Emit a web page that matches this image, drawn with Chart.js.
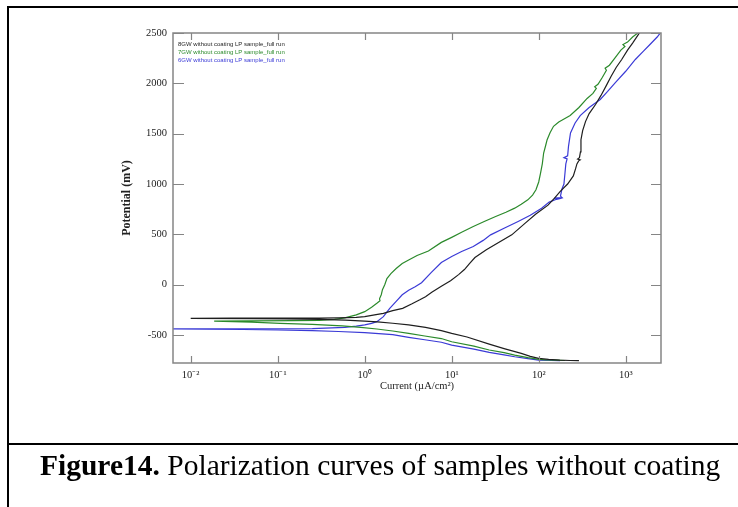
<!DOCTYPE html>
<html><head><meta charset="utf-8">
<script src="https://cdn.jsdelivr.net/npm/chart.js@4.4.0/dist/chart.umd.min.js"></script>
<style>
html,body{margin:0;padding:0;background:#fff;}
#wrap{position:relative;width:738px;height:507px;overflow:hidden;background:#fff;}
#c{position:absolute;left:0;top:0;}
.hl{position:absolute;background:#000;}
#cap{position:absolute;left:40px;top:451px;font-family:"Liberation Serif","Times New Roman",serif;font-size:29.5px;line-height:29.5px;white-space:nowrap;color:#000;}
</style></head>
<body><div id="wrap"><canvas id="c" width="738" height="507"></canvas>
<div class="hl" style="left:7px;top:6px;width:731px;height:2px"></div>
<div class="hl" style="left:7px;top:6px;width:2px;height:501px"></div>
<div class="hl" style="left:7px;top:443px;width:731px;height:2px"></div>
<div id="cap"><b>Figure14.</b> Polarization curves of samples without coating</div>
</div>
<script>
// ---- data (current in µA/cm², potential in mV) ----
const seriesLabels = ['8GW without coating LP sample_full run','7GW without coating LP sample_full run','6GW without coating LP sample_full run'];
const seriesColors = ['#1e1e1e','#2b8a2b','#3a3ad6'];

const gw8Current = [290,230,175,130,100,80,63,40,27,15,10,7.6,5,3.2,2.1,1.4,1.0,0.6,0.3,0.12,0.05,0.01,
  0.03,0.12,0.3,0.5,0.8,1.0,1.3,1.64,2.1,2.73,3.5,4.3,5.0,5.9,7.6,9.7,12,14,16,18.5,25,49,70,92,128,152,178,215,250,265,275,288,300,280,294,302,306,320,345,
  380,450,520,600,680,780,900,1050,1200,1450];
const gw8Potential = [-755,-753,-749,-742,-732,-712,-683,-635,-590,-520,-484,-457,-425,-400,-383,-370,-362,-352,-345,-340,-337,-334,
  -333,-333,-332,-330,-325,-318,-300,-285,-258,-235,-190,-150,-119,-75,-15,40,100,150,210,270,346,495,611,700,790,860,930,1000,1080,1150,1200,1230,1240,1248,1262,1320,1440,1530,1620,
  1700,1790,1880,1980,2070,2160,2237,2330,2400,2505];

const gw7Current = [200,160,120,100,75,53,40,27,18,10,7.6,4.9,3.2,2.1,1.38,0.9,0.55,0.25,0.107,0.05,0.0186,
  0.05,0.15,0.3,0.45,0.59,0.8,1.0,1.2,1.38,1.5,1.48,1.55,1.6,1.7,1.8,2.0,2.3,2.7,3.2,4.0,5.4,7.6,10,13,17.7,24,32,42,53,63,75,85,93,100,105,110,114,120,125,135,148,170,191,
  230,290,360,420,460,440,480,540,600,580,650,750,880,980,930,1050,1200,1400];
const gw7Potential = [-753,-750,-746,-742,-725,-699,-675,-649,-610,-567,-535,-510,-483,-460,-440,-425,-410,-395,-384,-372,-362,
  -359,-357,-354,-345,-330,-300,-268,-225,-185,-160,-140,-100,-50,0,60,110,160,210,245,290,335,420,470,520,578,630,677,720,760,800,843,890,943,1020,1109,1200,1308,1380,1440,1510,1573,1615,1640,
  1680,1760,1850,1900,1950,1965,1990,2060,2130,2150,2180,2250,2330,2366,2385,2410,2460,2505];

const gw6Current = [176,140,100,75,53,40,27,18,10,7.6,4.9,3.2,2.1,1.0,0.5,0.25,0.1,0.04,0.015,0.005,
  0.015,0.04,0.1,0.25,0.59,0.8,1.0,1.2,1.38,1.64,1.94,2.3,2.7,3.2,3.8,4.5,5.8,7.6,10,13,17.7,23,28,40,58,80,108,132,160,175,150,185,178,185,195,200,205,212,195,215,220,232,262,
  300,380,510,620,760,1000,1290,1600,1900,2300,2600];
const gw6Potential = [-755,-753,-749,-735,-716,-697,-673,-640,-600,-572,-547,-523,-497,-477,-465,-457,-450,-445,-441,-440,
  -440,-439,-438,-436,-424,-412,-400,-385,-367,-318,-235,-165,-100,-55,-20,20,120,220,280,330,379,440,495,560,628,690,760,820,848,855,860,866,880,950,1000,1100,1200,1250,1262,1280,1374,1507,1606,
  1680,1760,1840,1920,2008,2120,2237,2320,2386,2460,2520];

const xTickValues = [0.01,0.1,1,10,100,1000];
const xTickLabels = ['10⁻²','10⁻¹','10⁰','10¹','10²','10³'];
const yTickValues = [-500,0,500,1000,1500,2000,2500];
const yTickLabels = ['-500','0','500','1000','1500','2000','2500'];
const xMin = 0.00626, xMax = 2545, yMin = -778, yMax = 2500;

function pts(I,E){ return I.map((v,i)=>({x:v,y:E[i]})); }
const seriesData = [pts(gw8Current,gw8Potential), pts(gw7Current,gw7Potential), pts(gw6Current,gw6Potential)];

const serif = '"Liberation Serif","Times New Roman",serif';

const framePlugin = {
  id:'frame',
  afterDatasetsDraw(chart){
    const {ctx, chartArea:a, scales:{x,y}} = chart;
    ctx.save();
    ctx.strokeStyle='#858585'; ctx.lineWidth=1.5;
    ctx.strokeRect(a.left,a.top,a.right-a.left,a.bottom-a.top);
    ctx.lineWidth=1.2;
    ctx.beginPath();
    x.ticks.forEach(t=>{const px=Math.round(x.getPixelForValue(t.value))+0.5;
      ctx.moveTo(px,a.bottom); ctx.lineTo(px,a.bottom-7);
      ctx.moveTo(px,a.top); ctx.lineTo(px,a.top+7);});
    y.ticks.forEach(t=>{const py=Math.round(y.getPixelForValue(t.value))+0.5;
      ctx.moveTo(a.left,py); ctx.lineTo(a.left+11,py);
      ctx.moveTo(a.right,py); ctx.lineTo(a.right-10,py);});
    ctx.stroke();
    // legend text inside plot
    ctx.font = '6px "Liberation Sans", Arial, sans-serif';
    ctx.textBaseline='middle'; ctx.textAlign='left';
    chart.data.datasets.forEach((ds,i)=>{
      ctx.fillStyle = ds.borderColor;
      ctx.fillText(ds.label, a.left+5, a.top+11+i*8);
    });
    ctx.restore();
  }
};

new Chart(document.getElementById('c'), {
  type:'scatter',
  data:{ datasets: seriesData.map((d,i)=>({
    label: seriesLabels[i], data:d, borderColor: seriesColors[i], backgroundColor: seriesColors[i],
    borderWidth:1.2, pointRadius:0, showLine:true, fill:false, tension:0
  }))},
  options:{
    responsive:false, animation:false, devicePixelRatio:1,
    layout:{padding:{left:0,right:77,top:33,bottom:0}},
    plugins:{legend:{display:false}, tooltip:{enabled:false}},
    scales:{
      x:{type:'logarithmic', min:xMin, max:xMax,
        afterBuildTicks:s=>{ s.ticks = xTickValues.map(v=>({value:v})); },
        afterFit:s=>{ s.height = 144; },
        ticks:{autoSkip:false, maxRotation:0, padding:6, color:'#222',
          font:{family:serif,size:10.5}, callback:(v,i)=>xTickLabels[i]},
        grid:{display:false, drawTicks:false}, border:{display:false},
        title:{display:true, text:'Current (µA/cm²)', color:'#222', font:{family:serif,size:10.5}, padding:{top:0,bottom:114}}
      },
      y:{min:yMin, max:yMax,
        afterBuildTicks:s=>{ s.ticks = yTickValues.map(v=>({value:v})); },
        afterFit:s=>{ s.width = 173; },
        ticks:{padding:6, color:'#222', font:{family:serif,size:10.5}, callback:(v,i)=>yTickLabels[i]},
        grid:{display:false, drawTicks:false}, border:{display:false},
        title:{display:true, text:'Potential (mV)', color:'#222', font:{family:serif,size:12,weight:'bold'}, padding:{top:120,bottom:0}}
      }
    }
  },
  plugins:[framePlugin]
});
</script>
</body></html>
